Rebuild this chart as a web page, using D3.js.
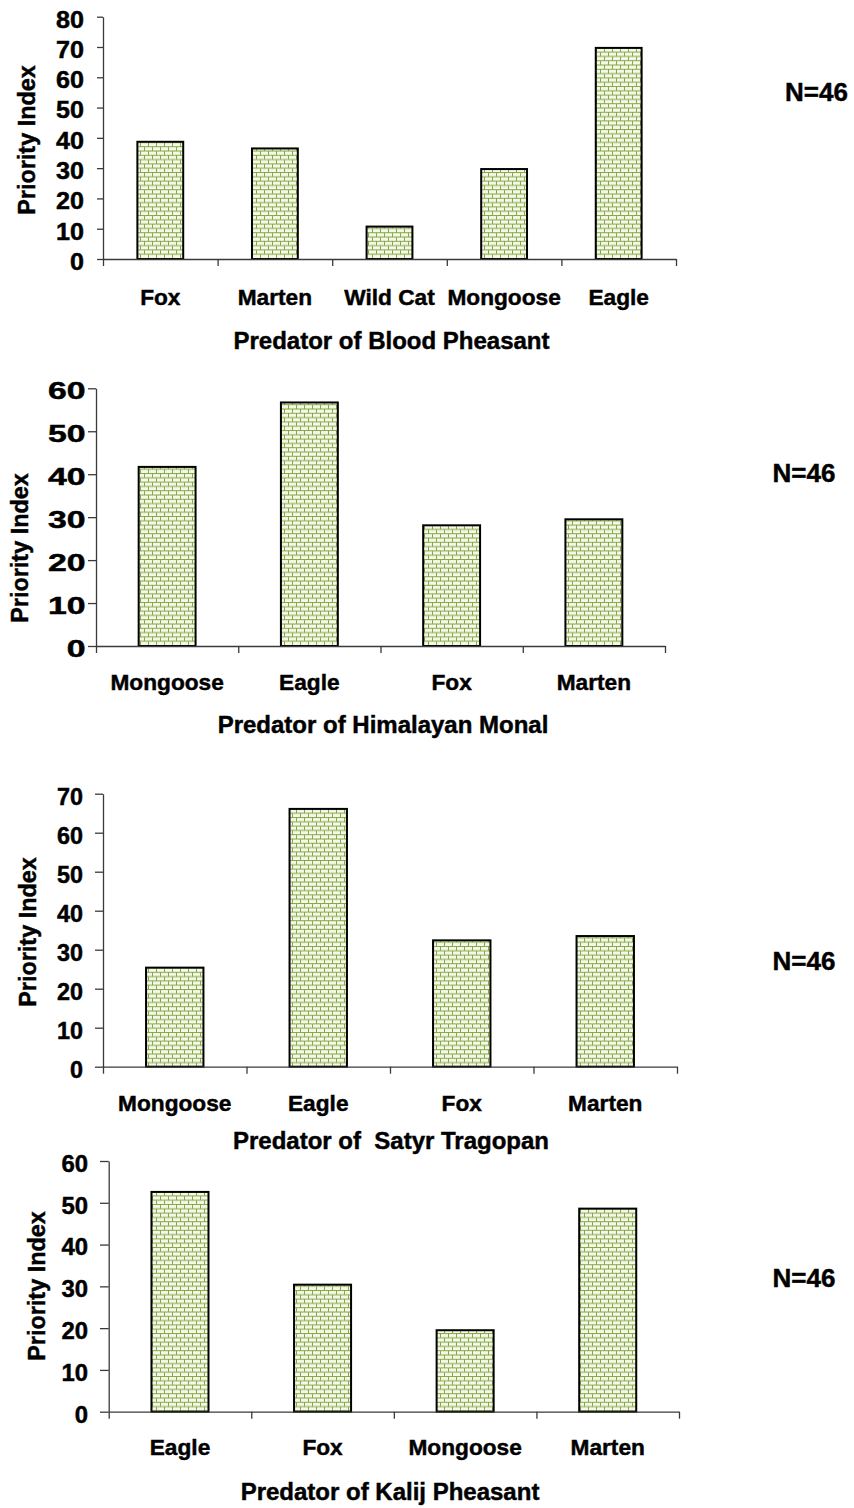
<!DOCTYPE html>
<html>
<head>
<meta charset="utf-8">
<script src="https://cdn.jsdelivr.net/npm/d3@7"></script>
<style>
  html, body { margin: 0; padding: 0; background: #ffffff; }
  svg { display: block; }
  text { font-family: "Liberation Sans", Arial, sans-serif; font-weight: bold; fill: #000; stroke: #000; stroke-width: 0.45px; }
</style>
</head>
<body>
<svg id="chart" width="854" height="1508"></svg>
<script>
// ---------------- Data ----------------
const bloodCategories = ["Fox", "Marten", "Wild Cat", "Mongoose", "Eagle"];
const bloodValues = [38.7, 36.5, 10.7, 29.7, 69.7];

const monalCategories = ["Mongoose", "Eagle", "Fox", "Marten"];
const monalValues = [41.7, 56.7, 28.1, 29.5];

const tragopanCategories = ["Mongoose", "Eagle", "Fox", "Marten"];
const tragopanValues = [25.4, 66.1, 32.4, 33.5];

const kalijCategories = ["Eagle", "Fox", "Mongoose", "Marten"];
const kalijValues = [52.6, 30.4, 19.5, 48.6];

const panelTitles = [
  "Predator of Blood Pheasant",
  "Predator of Himalayan Monal",
  "Predator of  Satyr Tragopan",
  "Predator of Kalij Pheasant"
];
const yAxisMax = [80, 60, 70, 60];
const yTickStep = 10;
const yAxisTitle = "Priority Index";
const sampleSize = "N=46";

// ---------------- Layout (positions only) ----------------
const layout = [
  { left: 103, right: 676, bottom: 259, top: 16.7, tickSize: 6, tickPad: 13, digitW: 14,
    labelBase: 305, titleBase: 349, titleX: 391.5, yTitleX: 27, yTitleY: 140, nX: 816.5, nY: 92 },
  { left: 96, right: 665, bottom: 646, top: 388.3, tickSize: 8, tickPad: 2.5, digitW: 18.8,
    labelBase: 690, titleBase: 733, titleX: 383, yTitleX: 20, yTitleY: 548, nX: 804, nY: 473 },
  { left: 103, right: 677, bottom: 1066.7, top: 793.7, tickSize: 8, tickPad: 12, digitW: 13,
    labelBase: 1111, titleBase: 1149, titleX: 391, yTitleX: 28, yTitleY: 932, nX: 804, nY: 961 },
  { left: 108.7, right: 679, bottom: 1411.7, top: 1161, tickSize: 8.7, tickPad: 12, digitW: 13.3,
    labelBase: 1455, titleBase: 1500, titleX: 390, yTitleX: 37, yTitleY: 1286, nX: 804, nY: 1278 }
];

const panels = [
  { cats: bloodCategories, vals: bloodValues },
  { cats: monalCategories, vals: monalValues },
  { cats: tragopanCategories, vals: tragopanValues },
  { cats: kalijCategories, vals: kalijValues }
];

const svg = d3.select("#chart");

// brick pattern
const defs = svg.append("defs");
const pat = defs.append("pattern")
  .attr("id", "brick")
  .attr("patternUnits", "userSpaceOnUse")
  .attr("width", 8).attr("height", 8.6);
pat.append("rect").attr("width", 8).attr("height", 8.6).attr("fill", "#f4f8ea");
const mortar = "#87a842";
pat.append("line").attr("x1", 0).attr("x2", 8).attr("y1", 0.5).attr("y2", 0.5)
  .attr("stroke", mortar).attr("stroke-width", 1);
pat.append("line").attr("x1", 0).attr("x2", 8).attr("y1", 4.8).attr("y2", 4.8)
  .attr("stroke", mortar).attr("stroke-width", 1);
pat.append("line").attr("x1", 0.5).attr("x2", 0.5).attr("y1", 0).attr("y2", 4.8)
  .attr("stroke", mortar).attr("stroke-width", 1);
pat.append("line").attr("x1", 4.5).attr("x2", 4.5).attr("y1", 4.8).attr("y2", 8.6)
  .attr("stroke", mortar).attr("stroke-width", 1);

const axisColor = "#3a3a3a";

panels.forEach((p, i) => {
  const L = layout[i];
  const g = svg.append("g");

  const x = d3.scaleBand()
    .domain(p.cats)
    .range([L.left, L.right])
    .paddingInner(0.6)
    .paddingOuter(0.3);

  const y = d3.scaleLinear()
    .domain([0, yAxisMax[i]])
    .range([L.bottom, L.top]);

  // bars
  g.selectAll("rect.bar")
    .data(p.vals)
    .join("rect")
    .attr("class", "bar")
    .attr("x", (d, j) => x(p.cats[j]))
    .attr("width", x.bandwidth())
    .attr("y", d => y(d))
    .attr("height", d => y(0) - y(d))
    .attr("fill", "url(#brick)")
    .attr("stroke", "#000")
    .attr("stroke-width", 2);

  // y axis
  const yAxis = d3.axisLeft(y)
    .tickValues(d3.range(0, yAxisMax[i] + 1, yTickStep))
    .tickSize(L.tickSize)
    .tickSizeOuter(0)
    .tickPadding(L.tickPad)
    .tickFormat(d3.format("d"));
  const ya = g.append("g").attr("transform", `translate(${L.left},0)`).call(yAxis);
  ya.select(".domain").attr("stroke", axisColor).attr("stroke-width", 1.3);
  ya.selectAll(".tick line").attr("stroke", axisColor).attr("stroke-width", 1.3);
  ya.selectAll(".tick text")
    .attr("font-size", 23)
    .attr("font-family", "'Liberation Sans', Arial, sans-serif")
    .attr("font-weight", "bold")
    .attr("fill", "#000")
    .attr("dy", "0.45em")
    .attr("textLength", function() { return this.textContent.length * L.digitW; })
    .attr("lengthAdjust", "spacingAndGlyphs");

  // x axis: ticks at category boundaries
  const xb = d3.scaleLinear().domain([0, p.cats.length]).range([L.left, L.right]);
  const xAxis = d3.axisBottom(xb)
    .tickValues(d3.range(0, p.cats.length + 1))
    .tickSize(7)
    .tickSizeOuter(0)
    .tickFormat("");
  const xa = g.append("g").attr("transform", `translate(0,${L.bottom})`).call(xAxis);
  xa.select(".domain").attr("stroke", axisColor).attr("stroke-width", 1.3);
  xa.selectAll(".tick line").attr("stroke", axisColor).attr("stroke-width", 1.3);

  // category labels
  g.selectAll("text.cat")
    .data(p.cats)
    .join("text")
    .attr("class", "cat")
    .attr("x", d => x(d) + x.bandwidth() / 2)
    .attr("y", L.labelBase)
    .attr("text-anchor", "middle")
    .attr("font-size", 22.7)
    .text(d => d);

  // title
  g.append("text")
    .attr("x", L.titleX)
    .attr("y", L.titleBase)
    .attr("text-anchor", "middle")
    .attr("font-size", 24)
    .style("white-space", "pre")
    .text(panelTitles[i]);

  // y title
  g.append("text")
    .attr("transform", `translate(${L.yTitleX},${L.yTitleY}) rotate(-90)`)
    .attr("text-anchor", "middle")
    .attr("dominant-baseline", "central")
    .attr("font-size", 23.4)
    .text(yAxisTitle);

  // N label
  g.append("text")
    .attr("x", L.nX)
    .attr("y", L.nY)
    .attr("text-anchor", "middle")
    .attr("dominant-baseline", "central")
    .attr("font-size", 26)
    .text(sampleSize);
});
</script>
</body>
</html>
